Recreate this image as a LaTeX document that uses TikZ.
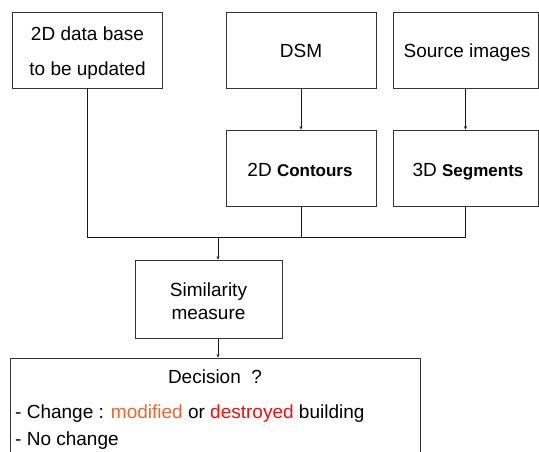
\documentclass[tikz,border=0pt]{standalone}
\usepackage{fontspec}
\setmainfont{Liberation Sans}
\usetikzlibrary{arrows.meta}
\definecolor{modcol}{RGB}{240,100,40}
\definecolor{descol}{RGB}{250,10,10}
\begin{document}
\begin{tikzpicture}[x=1pt,y=-1pt,
  box/.style={draw=black!80, line width=0.8pt, rectangle, inner sep=0pt},
  txt/.style={inner sep=0pt, anchor=base, font=\fontsize{19}{22}\selectfont},
  ltxt/.style={inner sep=0pt, anchor=base west, font=\fontsize{19}{22}\selectfont},
  bld/.style={font=\fontsize{17}{20}\selectfont\bfseries},
  conn/.style={draw=black!90, line width=0.8pt},
  arr/.style={conn, -{Stealth[length=3.5pt,width=3pt]}}]
\useasboundingbox (0,0) rectangle (539,452);
\clip (0,0) rectangle (539,452);
% boxes
\node[box, minimum width=150pt, minimum height=76pt] (db) at (87,50) {};
\node[box, minimum width=150pt, minimum height=76pt] (dsm) at (301,50) {};
\node[box, minimum width=145pt, minimum height=76pt] (src) at (465.5,50) {};
\node[box, minimum width=150pt, minimum height=76pt] (cont) at (301,168) {};
\node[box, minimum width=145pt, minimum height=76pt] (seg) at (465.5,168) {};
\node[box, minimum width=147pt, minimum height=78pt] (sim) at (208.5,299) {};
\node[box, minimum width=410pt, minimum height=120pt] (dec) at (215,418) {};
% texts
\node[txt] (dbt1) at (87.5,41) {2D data base};
\node[txt] (dbt2) at (87.5,76) {to be updated};
\node[txt] (dsmt) at (301,58) {DSM};
\node[txt] (srct) at (467,58) {Source images};
\node[txt] (contt) at (300,176) {2D {\fontsize{17}{20}\selectfont\bfseries Contours}};
\node[txt] (segt) at (468,176) {3D {\fontsize{17}{20}\selectfont\bfseries Segments}};
\node[txt] (simt1) at (208.5,296) {Similarity};
\node[txt] (simt2) at (208.5,319) {measure};
\node[txt] (dect) at (215,383) {Decision\ \ ?};
\node[ltxt] (decl1) at (15,418) {- Change : \textcolor{modcol}{modified} or \textcolor{descol}{destroyed} building};
\node[ltxt] (decl2) at (15,445) {- No change};
% connectors
\coordinate (j) at (218,237);
\draw[conn] (db.south) |- (j);
\draw[conn] (cont.south) |- (j);
\draw[conn] (seg.south) |- (j);
\draw[arr] (j) -- (sim.north -| j);
\draw[arr] (dsm.south) -- (cont.north);
\draw[arr] (src.south) -- (seg.north);
\draw[arr] (sim.south -| j) -- (dec.north -| j);
\end{tikzpicture}
\end{document}
